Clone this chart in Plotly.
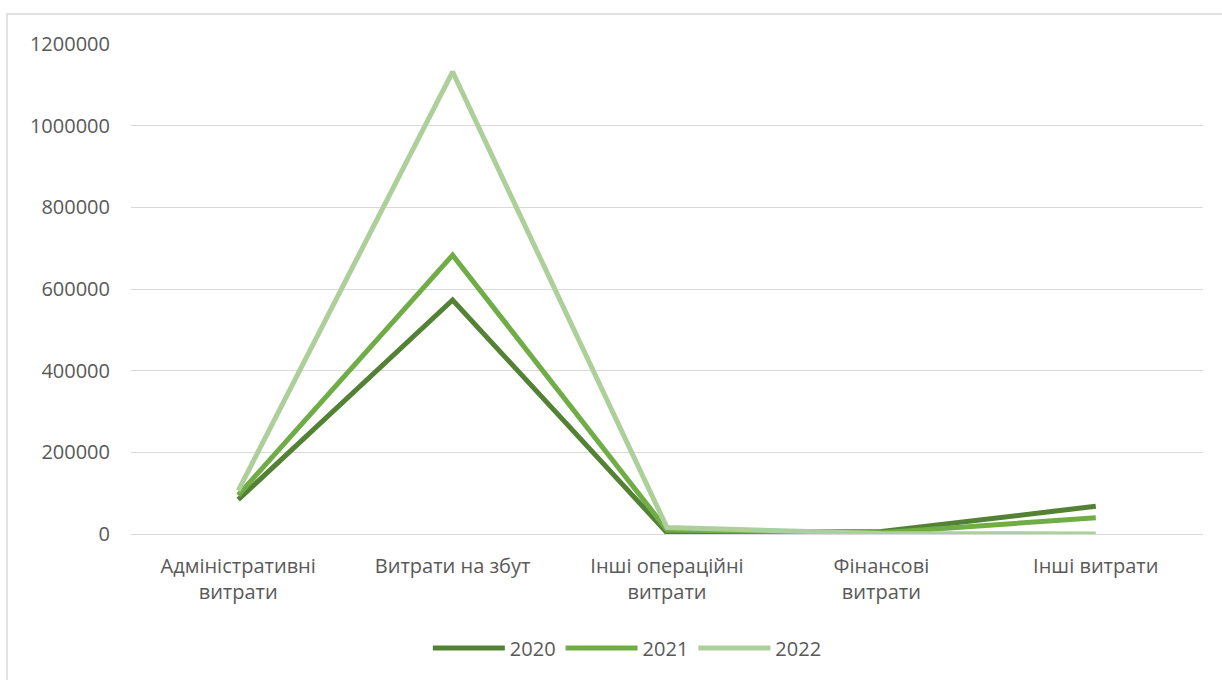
import plotly.graph_objects as go

categories = [
    "Адміністративні<br>витрати",
    "Витрати на збут",
    "Інші операційні<br>витрати",
    "Фінансові<br>витрати",
    "Інші витрати",
]
years = ["2020", "2021", "2022"]
values_2020 = [84000, 573000, 3000, 6000, 68000]
values_2021 = [95000, 683000, 10000, 3000, 40000]
values_2022 = [106000, 1132000, 16000, 1000, 0]
series = [values_2020, values_2021, values_2022]
colors = ["#548235", "#70AD47", "#ADCF9A"]

tick_vals = [0, 200000, 400000, 600000, 800000, 1000000, 1200000]

fig = go.Figure()
for name, vals, col in zip(years, series, colors):
    fig.add_trace(go.Scatter(
        x=categories, y=vals, name=name, mode="lines",
        line=dict(color=col, width=5),
    ))

W, H = 1222, 680
L, R, T, B = 131, 19, 44, 146
pw, ph = W - L - R, H - T - B

def px_to_paper_x(px):
    return (px - L) / pw

def px_to_paper_y(py):
    return (H - B - py) / ph

# outer chart frame (only left and top edges fall inside the view)
fig.add_shape(type="rect", xref="paper", yref="paper",
              x0=px_to_paper_x(7), x1=px_to_paper_x(1240),
              y0=px_to_paper_y(720), y1=px_to_paper_y(14),
              line=dict(color="#D9D9D9", width=1.5), layer="below")

fig.update_layout(
    width=W, height=H,
    margin=dict(l=L, r=R, t=T, b=B),
    paper_bgcolor="white", plot_bgcolor="white",
    font=dict(family="Open Sans", size=20, color="#595959"),
    showlegend=True,
    legend=dict(orientation="h", x=0.463, xanchor="center", y=px_to_paper_y(648), yanchor="middle",
                font=dict(size=20, color="#595959"), itemwidth=72),
    xaxis=dict(showgrid=False, showline=False, ticks="", tickfont=dict(size=20),
               range=[-0.5, 4.5], ticklabelstandoff=18),
    yaxis=dict(range=[0, 1200000], tickvals=tick_vals, tickformat="d",
               showgrid=True, gridcolor="#D9D9D9", gridwidth=1.3,
               zeroline=True, zerolinecolor="#D9D9D9", zerolinewidth=1.3,
               ticks="", tickfont=dict(size=20), ticklabelstandoff=20),
)

fig.write_html("out.html")
